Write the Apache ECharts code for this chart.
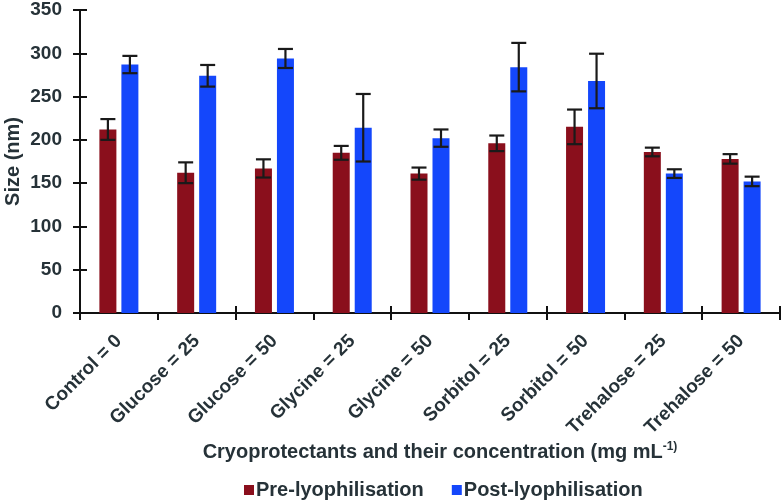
<!DOCTYPE html>
<html>
<head>
<meta charset="utf-8">
<script src="https://cdn.jsdelivr.net/npm/echarts@6/dist/echarts.min.js"></script>
<style>html,body{margin:0;padding:0;background:#fff}#c{width:783px;height:502px}</style>
</head>
<body>
<div id="c"></div>
<script>
var categories = ['Control = 0','Glucose = 25','Glucose = 50','Glycine = 25','Glycine = 50','Sorbitol = 25','Sorbitol = 50','Trehalose = 25','Trehalose = 50'];
var preMean  = [212, 162, 167, 185, 161, 196, 215, 186, 178];
var preErr   = [12, 12, 10.5, 8, 7, 9, 20, 5, 5.5];
var postMean = [287, 274, 294, 214, 202, 284, 268, 161, 152];
var postErr  = [10, 12.5, 11, 39, 10, 28, 31.5, 5, 5.5];
var seriesNames = ['Pre-lyophilisation', 'Post-lyophilisation'];
var yTicks = {min: 0, max: 350, interval: 50};

var FONT = '"Liberation Sans", Arial, sans-serif';
var TXT = '#263238';
var BAR_W = 17, GAP = 5;

function errData(mean, err) {
  return mean.map(function (m, i) { return [i, m - err[i], m + err[i]]; });
}
function errRender(sign) {
  return function (params, api) {
    var idx = api.value(0);
    var lo = api.coord([idx, api.value(1)]);
    var hi = api.coord([idx, api.value(2)]);
    var off = sign * (BAR_W + GAP) / 2;
    var x = lo[0] + off, cw = 7.5;
    var st = {stroke: '#1a1a1a', lineWidth: 2.2};
    return {type: 'group', children: [
      {type: 'line', shape: {x1: x, y1: lo[1], x2: x, y2: hi[1]}, style: st},
      {type: 'line', shape: {x1: x - cw, y1: lo[1], x2: x + cw, y2: lo[1]}, style: st},
      {type: 'line', shape: {x1: x - cw, y1: hi[1], x2: x + cw, y2: hi[1]}, style: st}
    ]};
  };
}

var chart = echarts.init(document.getElementById('c'));
chart.setOption({
  animation: false,
  backgroundColor: '#fff',
  grid: {left: 80, right: 3, top: 10, bottom: 189, outerBoundsMode: 'none', containLabel: false},
  legend: {
    data: seriesNames, left: 239, top: 475, icon: 'rect', itemWidth: 10, itemHeight: 10,
    itemGap: 28,
    textStyle: {fontFamily: FONT, fontWeight: 'bold', fontSize: 20, color: TXT, padding: [0, 0, 0, -3]}
  },
  xAxis: [{
    type: 'category', data: categories,
    axisLine: {lineStyle: {color: '#111', width: 2}},
    axisTick: {show: true, length: 7, lineStyle: {color: '#111', width: 2}},
    axisLabel: {rotate: 45, margin: 25, fontFamily: FONT, fontWeight: 'bold', fontSize: 19, color: TXT, interval: 0},
    name: '{n|Cryoprotectants and their concentration (mg mL}{s|-1)}',
    nameLocation: 'middle', nameGap: 128, nameMoveOverlap: false,
    nameTextStyle: {
      padding: [0, 0, 0, 20],
      rich: {
        n: {fontFamily: FONT, fontWeight: 'bold', fontSize: 20, color: TXT},
        s: {fontFamily: FONT, fontWeight: 'bold', fontSize: 12, color: TXT, verticalAlign: 'top', padding: [0, 0, 10, 0]}
      }
    }
  }, {
    type: 'category', data: categories, position: 'bottom',
    axisLine: {show: false}, axisLabel: {show: false},
    axisTick: {show: true, inside: true, length: 7, lineStyle: {color: '#111', width: 2}}
  }],
  yAxis: [{
    type: 'value', min: yTicks.min, max: yTicks.max, interval: yTicks.interval,
    splitLine: {show: false},
    axisLine: {show: true, lineStyle: {color: '#111', width: 2}},
    axisTick: {show: true, length: 7, lineStyle: {color: '#111', width: 2}},
    axisLabel: {margin: 18, fontFamily: FONT, fontWeight: 'bold', fontSize: 19, color: TXT},
    name: 'Size (nm)', nameLocation: 'middle', nameGap: 57, nameMoveOverlap: false,
    nameTextStyle: {fontFamily: FONT, fontWeight: 'bold', fontSize: 20, color: TXT}
  }, {
    type: 'value', min: yTicks.min, max: yTicks.max, interval: yTicks.interval, position: 'left',
    splitLine: {show: false}, axisLine: {show: false}, axisLabel: {show: false},
    axisTick: {show: true, inside: true, length: 7, lineStyle: {color: '#111', width: 2}}
  }],
  series: [
    {name: seriesNames[0], type: 'bar', data: preMean, barWidth: BAR_W, barGap: (GAP / BAR_W * 100) + '%',
     itemStyle: {color: '#8a0f1c'}},
    {name: seriesNames[1], type: 'bar', data: postMean, barWidth: BAR_W,
     itemStyle: {color: '#1447fb'}},
    {type: 'custom', data: errData(preMean, preErr), renderItem: errRender(-1), encode: {x: 0, y: [1, 2]}, z: 5},
    {type: 'custom', data: errData(postMean, postErr), renderItem: errRender(1), encode: {x: 0, y: [1, 2]}, z: 5}
  ]
});
</script>
</body>
</html>
